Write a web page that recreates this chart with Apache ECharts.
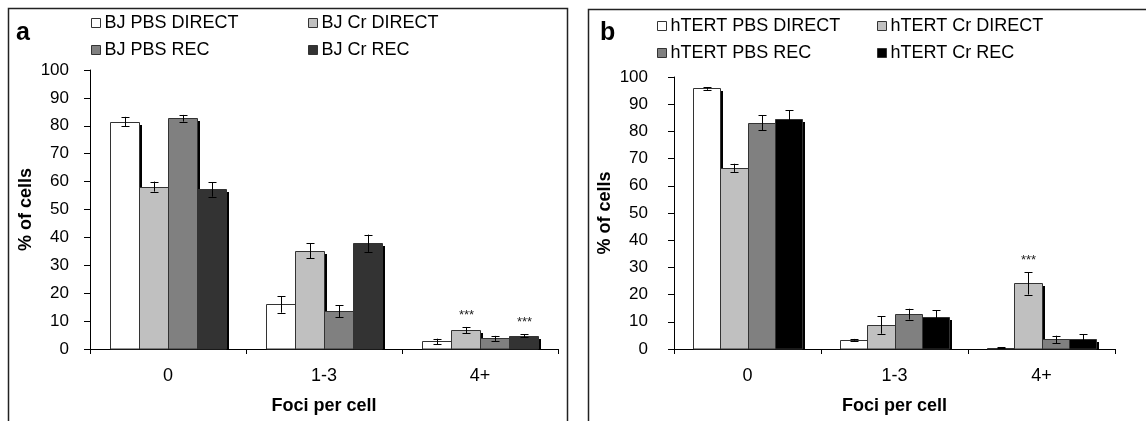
<!DOCTYPE html>
<html>
<head>
<meta charset="utf-8">
<script src="https://cdn.jsdelivr.net/npm/echarts@6/dist/echarts.min.js"></script>
<style>
html,body{margin:0;padding:0;background:#fff;}
#chart{width:1146px;height:421px;}
</style>
</head>
<body>
<div id="chart"></div>
<script>
// ---- data ----
const categories = ['0', '1-3', '4+'];

const namesA = ['BJ PBS DIRECT', 'BJ Cr DIRECT', 'BJ PBS REC', 'BJ Cr REC'];
const bjPbsDirect = [81.5, 16.0, 2.7];
const bjPbsDirectErr = [1.7, 3.0, 1.0];
const bjCrDirect = [58.2, 35.2, 6.8];
const bjCrDirectErr = [1.8, 2.7, 1.1];
const bjPbsRec = [82.7, 13.5, 3.8];
const bjPbsRecErr = [1.2, 2.1, 0.9];
const bjCrRec = [57.2, 37.9, 4.8];
const bjCrRecErr = [2.6, 3.1, 0.5];

const namesB = ['hTERT PBS DIRECT', 'hTERT Cr DIRECT', 'hTERT PBS REC', 'hTERT Cr REC'];
const htPbsDirect = [95.8, 3.4, 0.5];
const htPbsDirectErr = [0.5, 0.3, 0.1];
const htCrDirect = [66.6, 8.8, 24.1];
const htCrDirectErr = [1.5, 3.2, 4.1];
const htPbsRec = [83.2, 12.8, 3.5];
const htPbsRecErr = [2.7, 2.0, 1.4];
const htCrRec = [84.4, 11.6, 3.5];
const htCrRecErr = [3.4, 2.7, 1.9];

const noStars = ['', '', ''];
const starsCrA = ['', '', '***'];
const starsCrB = ['', '', '***'];

const yTicks = [0, 10, 20, 30, 40, 50, 60, 70, 80, 90, 100];

const colorsA = ['#FFFFFF', '#C0C0C0', '#808080', '#333333'];
const colorsB = ['#FFFFFF', '#C0C0C0', '#808080', '#000000'];

// ---- chart ----
const FONT = "'Liberation Sans', Arial, sans-serif";
const GAP = 0.26;

function makeSeries(name, vals, errs, stars, color, idx, gridIdx) {
  return {
    type: 'custom',
    name: name,
    xAxisIndex: gridIdx,
    yAxisIndex: gridIdx,
    data: vals.map((v, i) => [i, v, errs[i]]),
    encode: { x: 0, y: 1 },
    itemStyle: { color: color },
    renderItem: function (params, api) {
      const cat = api.value(0), v = api.value(1), e = api.value(2);
      const bw = api.size([1, 0])[0];
      const groupW = bw * (1 - GAP);
      const barW = groupW / 4;
      const basePt = api.coord([cat, 0]);
      const x0 = Math.round(basePt[0] - groupW / 2 + idx * barW);
      const x1 = Math.round(basePt[0] - groupW / 2 + (idx + 1) * barW);
      const base = Math.round(basePt[1]);
      const top = Math.round(api.coord([cat, v])[1]);
      const eTop = api.coord([cat, v + e])[1];
      const eBot = api.coord([cat, v - e])[1];
      const cx = Math.round((x0 + x1) / 2) + 0.5;
      const children = [];
      const sh = Math.max(base - top - 3, 0);
      children.push({ type: 'rect', shape: { x: x0 + 3, y: base - sh, width: x1 - x0, height: sh }, style: { fill: '#000' } });
      children.push({ type: 'rect', shape: { x: x0 + 0.5, y: top + 0.5, width: x1 - x0, height: Math.max(base - top - 0.5, 0) }, style: { fill: color, stroke: '#333', lineWidth: 1 } });
      const capW = 4;
      children.push({ type: 'line', shape: { x1: cx, y1: eTop, x2: cx, y2: eBot }, style: { stroke: '#000', lineWidth: 1 } });
      children.push({ type: 'line', shape: { x1: cx - capW, y1: Math.round(eTop) + 0.5, x2: cx + capW, y2: Math.round(eTop) + 0.5 }, style: { stroke: '#000', lineWidth: 1 } });
      children.push({ type: 'line', shape: { x1: cx - capW, y1: Math.round(eBot) + 0.5, x2: cx + capW, y2: Math.round(eBot) + 0.5 }, style: { stroke: '#000', lineWidth: 1 } });
      const s = stars[params.dataIndex];
      if (s) {
        children.push({ type: 'text', style: { text: s, x: cx, y: eTop - 12, align: 'center', verticalAlign: 'middle', font: '13px ' + FONT, fill: '#222' } });
      }
      return { type: 'group', children: children };
    }
  };
}

function axisPair(gridIdx, labelMargin, nameGapY) {
  return {
    x: {
      type: 'category', gridIndex: gridIdx, data: categories,
      boundaryGap: true,
      axisLine: { lineStyle: { color: '#000', width: 1 } },
      axisTick: { show: true, length: 5, alignWithLabel: false, lineStyle: { color: '#000' } },
      axisLabel: { color: '#000', fontSize: 18, fontFamily: FONT, margin: 18 },
      name: 'Foci per cell', nameLocation: 'middle', nameGap: 48,
      nameTextStyle: { color: '#000', fontSize: 18, fontWeight: 'bold', fontFamily: FONT },
      splitLine: { show: false }
    },
    y: {
      type: 'value', gridIndex: gridIdx, min: 0, max: 100, interval: 10,
      axisLine: { show: true, lineStyle: { color: '#000', width: 1 } },
      axisTick: { show: true, length: 6, lineStyle: { color: '#000' } },
      axisLabel: { color: '#000', fontSize: 17, fontFamily: FONT, margin: labelMargin,
        formatter: function (v) { return yTicks.indexOf(v) >= 0 ? String(v) : ''; } },
      splitLine: { show: false },
      name: '% of cells', nameLocation: 'middle', nameRotate: 90, nameGap: nameGapY,
      nameTextStyle: { color: '#000', fontSize: 18, fontWeight: 'bold', fontFamily: FONT }
    }
  };
}

const axA = axisPair(0, 21, 55), axB = axisPair(1, 26, 60);

function legendItem(name, color, left, top) {
  return {
    show: true, left: left, top: top, padding: 0, selectedMode: false,
    icon: 'rect', itemWidth: 9, itemHeight: 9, itemGap: 0,
    textStyle: { color: '#000', fontSize: 18, fontFamily: FONT, padding: [0, 0, 0, -1] },
    data: [{ name: name, icon: 'rect', itemStyle: { color: color, borderColor: '#333', borderWidth: 1 } }]
  };
}

const valsA = [bjPbsDirect, bjCrDirect, bjPbsRec, bjCrRec];
const errsA = [bjPbsDirectErr, bjCrDirectErr, bjPbsRecErr, bjCrRecErr];
const starsA = [noStars, starsCrA, noStars, starsCrA];
const valsB = [htPbsDirect, htCrDirect, htPbsRec, htCrRec];
const errsB = [htPbsDirectErr, htCrDirectErr, htPbsRecErr, htCrRecErr];
const starsB = [noStars, starsCrB, noStars, noStars];

const series = [];
for (let i = 0; i < 4; i++) series.push(makeSeries(namesA[i], valsA[i], errsA[i], starsA[i], colorsA[i], i, 0));
for (let i = 0; i < 4; i++) series.push(makeSeries(namesB[i], valsB[i], errsB[i], starsB[i], colorsB[i], i, 1));

const option = {
  backgroundColor: '#fff',
  animation: false,
  textStyle: { fontFamily: FONT },
  grid: [
    { left: 90, top: 70, width: 468, height: 279, containLabel: false },
    { left: 674, top: 77, width: 441, height: 272, containLabel: false }
  ],
  xAxis: [axA.x, axB.x],
  yAxis: [axA.y, axB.y],
  legend: [
    legendItem(namesA[0], colorsA[0], 91, 14),
    legendItem(namesA[1], colorsA[1], 308, 14),
    legendItem(namesA[2], colorsA[2], 91, 41),
    legendItem(namesA[3], colorsA[3], 308, 41),
    legendItem(namesB[0], colorsB[0], 657, 17),
    legendItem(namesB[1], colorsB[1], 877, 17),
    legendItem(namesB[2], colorsB[2], 657, 44),
    legendItem(namesB[3], colorsB[3], 877, 44)
  ],
  graphic: [
    { type: 'rect', shape: { x: 8.5, y: 8.5, width: 559, height: 430 }, style: { fill: 'none', stroke: '#222', lineWidth: 1.5 }, z: -1 },
    { type: 'rect', shape: { x: 588.5, y: 9.5, width: 570, height: 430 }, style: { fill: 'none', stroke: '#222', lineWidth: 1.5 }, z: -1 },
    { type: 'text', style: { text: 'a', x: 16, y: 46, verticalAlign: 'bottom', font: 'bold 25px ' + FONT, fill: '#000' } },
    { type: 'text', style: { text: 'b', x: 600, y: 46, verticalAlign: 'bottom', font: 'bold 25px ' + FONT, fill: '#000' } }
  ],
  series: series
};

const chart = echarts.init(document.getElementById('chart'), null, { renderer: 'canvas' });
chart.setOption(option);
</script>
</body>
</html>
